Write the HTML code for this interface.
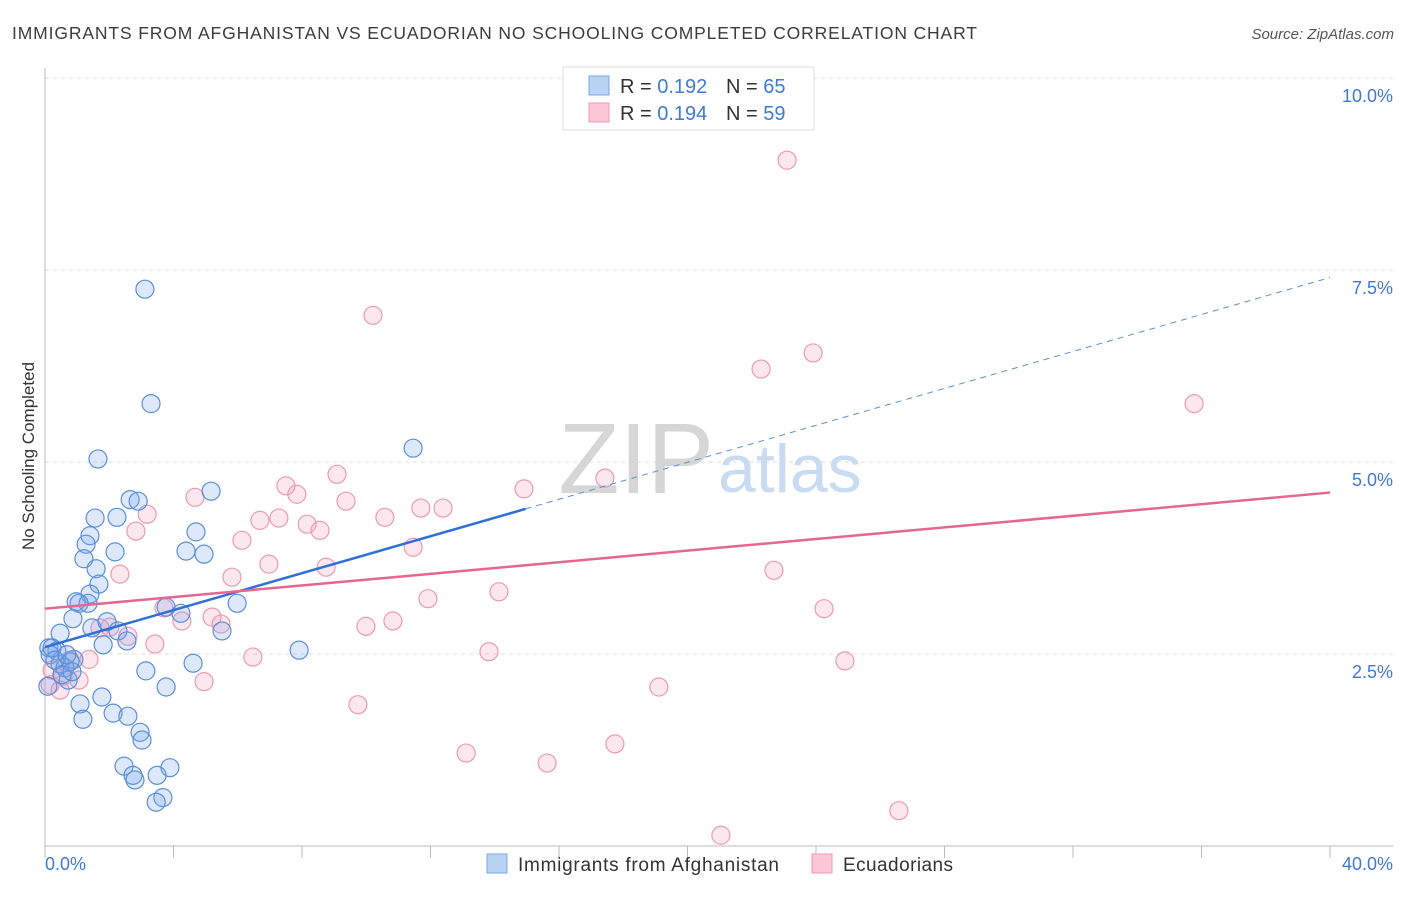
<!DOCTYPE html>
<html><head><meta charset="utf-8"><style>
body{margin:0;background:#fff;font-family:"Liberation Sans",sans-serif;}
svg text{font-family:"Liberation Sans",sans-serif;}
</style></head><body>
<svg id="chart" width="1406" height="892" xmlns="http://www.w3.org/2000/svg">
<text x="12" y="39" font-size="17.5" fill="#3c3c3c" textLength="965" lengthAdjust="spacing">IMMIGRANTS FROM AFGHANISTAN VS ECUADORIAN NO SCHOOLING COMPLETED CORRELATION CHART</text>
<text x="1394" y="39" font-size="15" fill="#555" text-anchor="end" font-style="italic">Source: ZipAtlas.com</text>
<text x="34" y="456" font-size="17" fill="#333" text-anchor="middle" transform="rotate(-90 34 456)">No Schooling Completed</text>
<g id="grid"></g>
<g id="axes"></g>
<text x="714" y="493" font-size="100" fill="#d6d6d6" text-anchor="end" font-family="Liberation Serif">ZIP</text>
<text x="718" y="492" font-size="68" fill="#c9dbf3">atlas</text>
<g id="pts"></g>
<g id="trends"></g>
<g>
<rect x="563" y="67" width="251" height="63" fill="#fff" stroke="#ddd"/>
<rect x="589" y="76" width="20" height="19" fill="#b9d3f5" stroke="#7aa6e6"/>
<rect x="589" y="103" width="20" height="19" fill="#fbc7d7" stroke="#ec9ab5"/>
<text x="620" y="93" font-size="20" fill="#333">R = <tspan fill="#3f7ad6">0.192</tspan></text>
<text x="726" y="93" font-size="20" fill="#333">N = <tspan fill="#3f7ad6">65</tspan></text>
<text x="620" y="120" font-size="20" fill="#333">R = <tspan fill="#3f7ad6">0.194</tspan></text>
<text x="726" y="120" font-size="20" fill="#333">N = <tspan fill="#3f7ad6">59</tspan></text>
</g>
<g>
<rect x="487" y="854" width="20" height="19" fill="#b9d3f5" stroke="#7aa6e6"/>
<text x="518" y="871" font-size="19" fill="#333" textLength="261" lengthAdjust="spacing">Immigrants from Afghanistan</text>
<rect x="812" y="854" width="20" height="19" fill="#fbc7d7" stroke="#ec9ab5"/>
<text x="843" y="871" font-size="19" fill="#333" textLength="110" lengthAdjust="spacing">Ecuadorians</text>
</g>
</svg>
<script>
const yTicks=[2.5,5.0,7.5,10.0];
const xTickLabels=["0.0%","40.0%"];
const blueX=[3.11,3.30,11.46,1.65,5.17,2.65,2.90,1.56,2.24,4.70,1.40,1.28,4.39,2.18,4.95,1.21,1.59,1.68,1.40,0.97,1.34,1.06,5.98,3.77,4.23,0.87,1.46,1.93,5.51,0.47,2.27,2.55,1.81,0.12,0.37,7.91,0.16,0.90,0.47,0.78,0.62,4.61,3.14,0.72,3.77,1.77,1.09,1.18,2.12,2.58,2.96,3.02,2.46,2.74,2.80,3.49,3.89,3.67,3.46,0.22,0.31,0.53,0.84,0.68,0.09];
const blueY=[7.25,5.76,5.18,5.04,4.62,4.51,4.49,4.27,4.28,4.09,4.04,3.93,3.84,3.83,3.80,3.74,3.61,3.41,3.28,3.18,3.16,3.16,3.16,3.11,3.03,2.96,2.84,2.92,2.80,2.77,2.80,2.67,2.62,2.58,2.54,2.55,2.49,2.43,2.37,2.40,2.32,2.38,2.28,2.16,2.07,1.94,1.85,1.65,1.73,1.69,1.48,1.38,1.04,0.92,0.86,0.92,1.02,0.63,0.57,2.58,2.42,2.23,2.27,2.49,2.08];
const pinkX=[23.10,10.21,23.91,22.29,35.77,9.09,17.43,7.50,14.91,7.84,4.67,9.37,11.70,12.39,3.18,6.69,10.58,7.28,8.16,8.56,2.83,6.13,11.46,6.97,8.75,2.33,5.82,22.69,14.13,11.92,3.70,24.25,5.20,4.26,5.48,10.83,9.99,2.58,2.02,3.42,13.82,6.47,1.37,24.90,4.95,1.06,19.11,9.74,17.74,13.11,15.63,26.58,21.04,0.16,0.47,0.56,0.22,0.78,1.71];
const pinkY=[8.93,6.91,6.42,6.21,5.76,4.84,4.79,4.69,4.65,4.58,4.54,4.49,4.40,4.40,4.32,4.24,4.28,4.27,4.19,4.11,4.10,3.98,3.89,3.67,3.63,3.54,3.50,3.59,3.31,3.22,3.10,3.09,2.98,2.93,2.89,2.93,2.86,2.73,2.85,2.63,2.53,2.46,2.43,2.41,2.14,2.16,2.07,1.84,1.33,1.21,1.08,0.46,0.14,2.10,2.03,2.21,2.29,2.42,2.84];
const blueTrend=[2.59,0.1203]; // intercept, slope per %
const pinkTrend=[3.09,0.0378];
const NS="http://www.w3.org/2000/svg";
const X0=45,X1=1330,Y0=846,YPER=76.8;
function sx(v){return X0+(X1-X0)*v/40;}
function sy(v){return Y0-v*YPER;}
function mk(t,a,p){const e=document.createElementNS(NS,t);for(const k in a)e.setAttribute(k,a[k]);p.appendChild(e);return e;}
const grid=document.getElementById('grid'),axes=document.getElementById('axes');
yTicks.forEach(t=>{
 const l=mk('line',{x1:45,x2:1393,y1:sy(t),y2:sy(t),stroke:'#ddd','stroke-dasharray':'4,4'},grid);
 
 
 const tx=mk('text',{x:1393,y:sy(t)+24,'font-size':18,fill:'#3f7ad6','text-anchor':'end'},grid);
 tx.textContent=t.toFixed(1)+'%';
 
 
});
mk('line',{x1:45,x2:45,y1:68,y2:846,stroke:'#bbb'},axes);
mk('line',{x1:45,x2:1393,y1:846,y2:846,stroke:'#bbb'},axes);
for(let i=0;i<=10;i++){mk('line',{x1:sx(i*4),x2:sx(i*4),y1:846,y2:858,stroke:'#bbb'},axes);}
const xl0=mk('text',{x:45,y:870,'font-size':18,fill:'#3f7ad6'},axes);xl0.textContent=xTickLabels[0];


const xl1=mk('text',{x:1393,y:870,'font-size':18,fill:'#3f7ad6','text-anchor':'end'},axes);xl1.textContent=xTickLabels[1];


const pts=document.getElementById('pts');
pinkX.forEach((x,i)=>{
 const c=mk('circle',{cx:sx(x),cy:sy(pinkY[i]),r:9,fill:'rgba(243,160,188,0.25)',stroke:'#eb9ab4','stroke-width':1.2},pts);
 
 
});
blueX.forEach((x,i)=>{
 const c=mk('circle',{cx:sx(x),cy:sy(blueY[i]),r:9,fill:'rgba(120,165,235,0.25)',stroke:'#5b8fd9','stroke-width':1.2},pts);
 
 
});
const tr=document.getElementById('trends');
const bEnd=Math.max(...blueX.filter(v=>v<20))+3.5;
const b1=mk('line',{x1:sx(0),y1:sy(blueTrend[0]),x2:sx(bEnd),y2:sy(blueTrend[0]+blueTrend[1]*bEnd),stroke:'#2f6fd6','stroke-width':2.5},tr);


const b2=mk('line',{x1:sx(bEnd),y1:sy(blueTrend[0]+blueTrend[1]*bEnd),x2:sx(40),y2:sy(blueTrend[0]+blueTrend[1]*40),stroke:'#5b8fd9','stroke-width':1,'stroke-dasharray':'6,5'},tr);


const p1=mk('line',{x1:sx(0),y1:sy(pinkTrend[0]),x2:sx(40),y2:sy(pinkTrend[0]+pinkTrend[1]*40),stroke:'#e5668f','stroke-width':2.5},tr);


</script>
</body></html>
